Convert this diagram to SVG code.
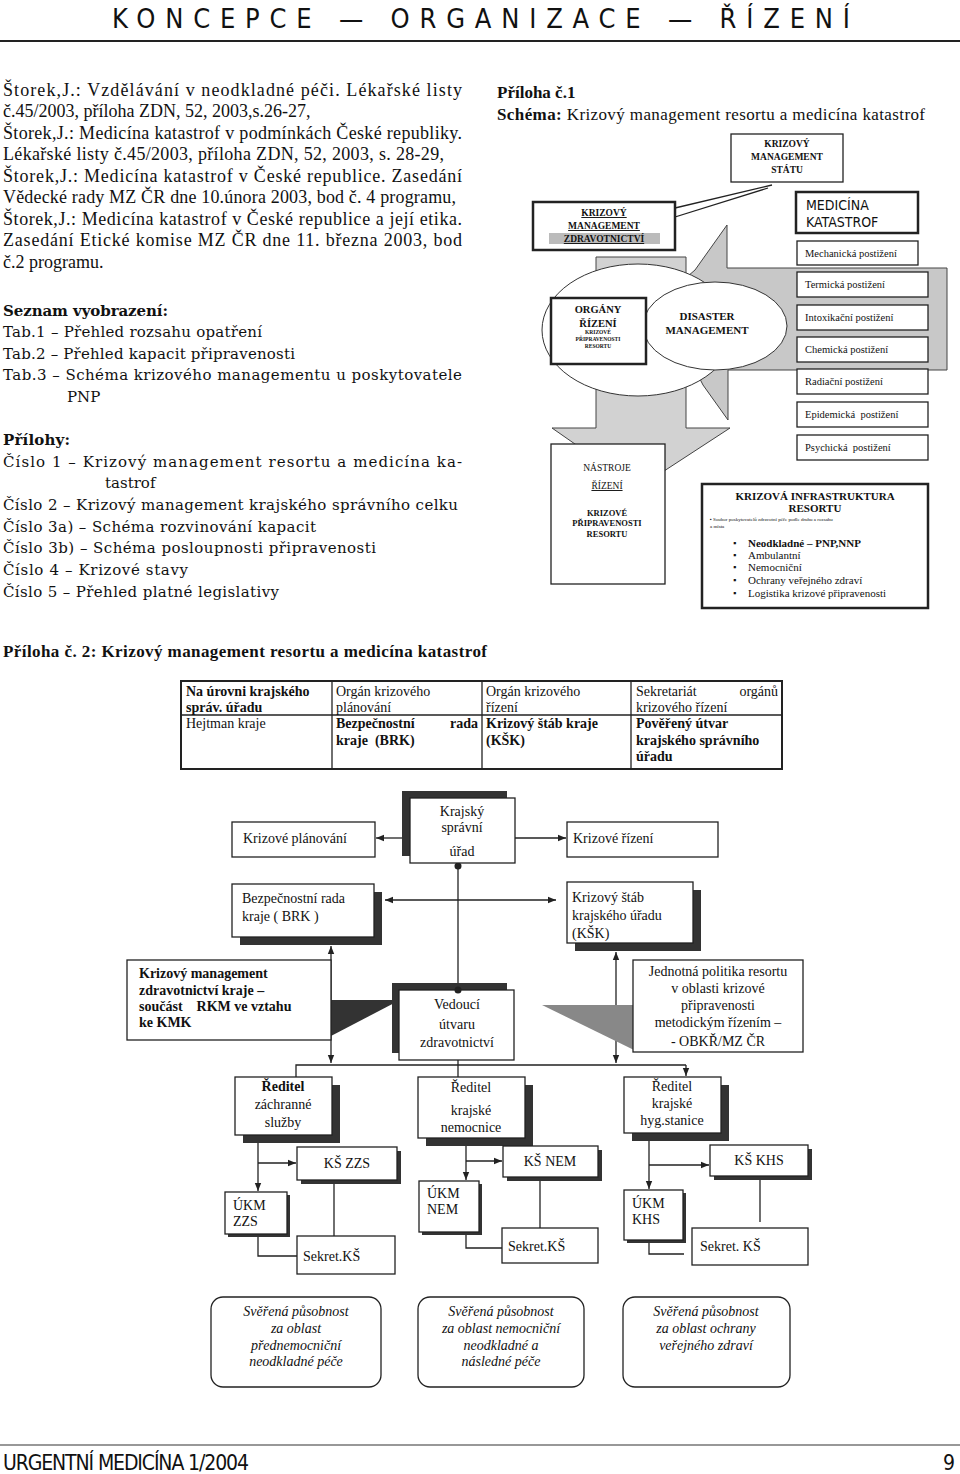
<svg xmlns="http://www.w3.org/2000/svg" width="960" height="1474" viewBox="0 0 960 1474">
<style>
.s{font-family:"Liberation Serif","Times New Roman",serif;fill:#111}
.d{font-family:"DejaVu Serif","Liberation Serif",serif;fill:#111}
.ss{font-family:"Liberation Sans Narrow","DejaVu Sans Condensed","Liberation Sans",sans-serif;fill:#111}
.b{font-weight:bold}
.i{font-style:italic}
.box{fill:#fff;stroke:#222;stroke-width:1.3}
.tk{fill:#fff;stroke:#222;stroke-width:2.5}
.sh{fill:#333}
.ln{stroke:#222;stroke-width:1.3;fill:none}
.m{text-anchor:middle}
.e{text-anchor:end}
.pre{white-space:pre}
</style>
<defs>
<marker id="ah" viewBox="0 0 10 10" refX="10" refY="5" markerWidth="8" markerHeight="8" markerUnits="userSpaceOnUse" orient="auto-start-reverse"><path d="M0,1 L10,5 L0,9 z" fill="#222"/></marker>
</defs>
<rect width="960" height="1474" fill="#fff"/>

<g id="header">
<text class="ss" x="112" y="28" font-size="27" textLength="738" lengthAdjust="spacing">KONCEPCE — ORGANIZACE — ŘÍZENÍ</text>
<line x1="0" y1="41" x2="960" y2="41" stroke="#222" stroke-width="2"/>
</g>

<g id="references" class="s" font-size="18">
<text x="3" y="96" textLength="459" lengthAdjust="spacing">Štorek,J.: Vzdělávání v neodkladné péči. Lékařské listy</text>
<text x="3" y="117">č.45/2003, příloha ZDN, 52, 2003,s.26-27,</text>
<text x="3" y="139" textLength="459" lengthAdjust="spacing">Štorek,J.: Medicína katastrof v podmínkách České republiky.</text>
<text x="3" y="160" textLength="441" lengthAdjust="spacing">Lékařské listy č.45/2003, příloha ZDN, 52, 2003, s. 28-29,</text>
<text x="3" y="182" textLength="459" lengthAdjust="spacing">Štorek,J.: Medicína katastrof v České republice. Zasedání</text>
<text x="3" y="203" textLength="453" lengthAdjust="spacing">Vědecké rady MZ ČR dne 10.února 2003, bod č. 4 programu,</text>
<text x="3" y="225" textLength="459" lengthAdjust="spacing">Štorek,J.: Medicína katastrof v České republice a její etika.</text>
<text x="3" y="246" textLength="459" lengthAdjust="spacing">Zasedání Etické komise MZ ČR dne 11. března 2003, bod</text>
<text x="3" y="268">č.2 programu.</text>
</g>

<g id="lists" class="d" font-size="15">
<text x="3" y="316" class="b" textLength="165" lengthAdjust="spacing">Seznam vyobrazení:</text>
<text x="3" y="337" textLength="259" lengthAdjust="spacing">Tab.1 – Přehled rozsahu opatření</text>
<text x="3" y="359" textLength="292" lengthAdjust="spacing">Tab.2 – Přehled kapacit připravenosti</text>
<text x="3" y="380" textLength="459" lengthAdjust="spacing">Tab.3 – Schéma krizového managementu u poskytovatele</text>
<text x="67" y="402">PNP</text>
<text x="3" y="445" class="b" textLength="67" lengthAdjust="spacing">Přílohy:</text>
<text x="3" y="467" textLength="459" lengthAdjust="spacing">Číslo 1 – Krizový management resortu a medicína ka-</text>
<text x="105" y="488">tastrof</text>
<text x="3" y="510" textLength="455" lengthAdjust="spacing">Číslo 2 – Krizový management krajského správního celku</text>
<text x="3" y="532" textLength="313" lengthAdjust="spacing">Číslo 3a) – Schéma rozvinování kapacit</text>
<text x="3" y="553" textLength="373" lengthAdjust="spacing">Číslo 3b) – Schéma posloupnosti připravenosti</text>
<text x="3" y="575" textLength="185" lengthAdjust="spacing">Číslo 4 – Krizové stavy</text>
<text x="3" y="597" textLength="276" lengthAdjust="spacing">Číslo 5 – Přehled platné legislativy</text>
</g>

<g id="priloha1-title" class="s" font-size="17">
<text x="497" y="98" class="b">Příloha č.1</text>
<text x="497" y="120" textLength="428" lengthAdjust="spacing"><tspan class="b">Schéma:</tspan> Krizový management resortu a medicína katastrof</text>
</g>

<g id="schema1">
<polygon points="727,225 727,268 947,268 947,370 728,370 728,420 703,385 660,300 695,270" fill="#c8c8c8" stroke="#444" stroke-width="1"/>
<path d="M596,257 H686 V428 H730 L638,488 L552,428 H596 Z" fill="#d2d2d2" stroke="#444" stroke-width="1"/>
<line x1="772" y1="185" x2="675" y2="208" class="ln" stroke-width="2"/>
<line x1="768" y1="188" x2="675" y2="217" class="ln" stroke-width="2"/>
<g id="n-stat"><rect x="731" y="134" width="112" height="48" class="box" stroke-width="1.6"/>
<text class="s b m" font-size="9.5" x="787" y="147">KRIZOVÝ</text><text class="s b m" font-size="9.5" x="787" y="160">MANAGEMENT</text><text class="s b m" font-size="9.5" x="787" y="173">STÁTU</text></g>
<g id="n-zdrav"><rect x="533" y="202" width="142" height="48" class="tk"/>
<rect x="549" y="233" width="111" height="11" fill="#bbb"/>
<text class="s b m" font-size="9.5" x="604" y="216" text-decoration="underline">KRIZOVÝ</text><text class="s b m" font-size="9.5" x="604" y="229" text-decoration="underline">MANAGEMENT</text><text class="s b m" font-size="9.5" x="604" y="242" text-decoration="underline">ZDRAVOTNICTVÍ</text></g>
<g id="n-medkat"><rect x="796" y="192" width="122" height="41" class="tk"/>
<text class="ss" font-size="14" x="806" y="210">MEDICÍNA</text><text class="ss" font-size="14" x="806" y="227">KATASTROF</text></g>
<g id="n-mech"><rect x="797" y="241" width="121" height="24" class="box" stroke-width="1"/><text class="s" font-size="10.5" x="805" y="257">Mechanická postižení</text></g>
<g id="n-term"><rect x="797" y="272" width="131" height="25" class="box" stroke-width="1"/><text class="s" font-size="10.5" x="805" y="288">Termická postižení</text></g>
<g id="n-intox"><rect x="797" y="305" width="131" height="25" class="box" stroke-width="1"/><text class="s" font-size="10.5" x="805" y="321">Intoxikační postižení</text></g>
<g id="n-chem"><rect x="797" y="337" width="131" height="25" class="box" stroke-width="1"/><text class="s" font-size="10.5" x="805" y="353">Chemická postižení</text></g>
<g id="n-rad"><rect x="797" y="369" width="131" height="25" class="box" stroke-width="1"/><text class="s" font-size="10.5" x="805" y="385">Radiační postižení</text></g>
<g id="n-epid"><rect x="797" y="402" width="131" height="25" class="box" stroke-width="1"/><text class="s pre" font-size="10.5" x="805" y="418">Epidemická  postižení</text></g>
<g id="n-psych"><rect x="797" y="435" width="131" height="25" class="box" stroke-width="1"/><text class="s pre" font-size="10.5" x="805" y="451">Psychická  postižení</text></g>
<ellipse cx="638" cy="330" rx="96" ry="66" fill="#fff" stroke="#333" stroke-width="1"/>
<g id="n-disaster"><ellipse cx="715" cy="326" rx="72" ry="44" fill="#fff" stroke="#333" stroke-width="1"/>
<text class="s b m" font-size="11" x="707" y="320">DISASTER</text><text class="s b m" font-size="11" x="707" y="334">MANAGEMENT</text></g>
<g id="n-organy"><rect x="551" y="298" width="95" height="66" class="tk"/>
<text class="s b m" font-size="10.5" x="598" y="313">ORGÁNY</text><text class="s b m" font-size="10.5" x="598" y="327">ŘÍZENÍ</text>
<text class="s b m" font-size="5.5" x="598" y="334">KRIZOVÉ</text><text class="s b m" font-size="5.5" x="598" y="341">PŘIPRAVENOSTI</text><text class="s b m" font-size="5.5" x="598" y="348">RESORTU</text></g>
<g id="n-nastroje"><rect x="551" y="444" width="114" height="140" class="box" stroke-width="1.5"/>
<text class="s m" font-size="9.5" x="607" y="471">NÁSTROJE</text><text class="s m" font-size="9.5" x="607" y="489" text-decoration="underline">ŘÍZENÍ</text>
<text class="s b m" font-size="8.5" x="607" y="516">KRIZOVÉ</text><text class="s b m" font-size="8.5" x="607" y="526">PŘIPRAVENOSTI</text><text class="s b m" font-size="8.5" x="607" y="537">RESORTU</text></g>
<g id="n-infra"><rect x="702" y="484" width="226" height="124" class="tk"/>
<text class="s b m" font-size="11" x="815" y="500">KRIZOVÁ INFRASTRUKTURA</text><text class="s b m" font-size="11" x="815" y="512">RESORTU</text>
<text class="s" font-size="5" x="710" y="521">▪ Soubor poskytovatelů zdravotní péče podle druhu a rozsahu</text><text class="s" font-size="5" x="710" y="528">a místa</text>
<text class="s" font-size="9" x="733" y="546">▪</text><text class="s b" font-size="11" x="748" y="547">Neodkladné – PNP,NNP</text>
<text class="s" font-size="9" x="733" y="558">▪</text><text class="s" font-size="11" x="748" y="559">Ambulantní</text>
<text class="s" font-size="9" x="733" y="570">▪</text><text class="s" font-size="11" x="748" y="571">Nemocniční</text>
<text class="s" font-size="9" x="733" y="583">▪</text><text class="s" font-size="11" x="748" y="584">Ochrany veřejného zdraví</text>
<text class="s" font-size="9" x="733" y="596">▪</text><text class="s" font-size="11" x="748" y="597">Logistika krizové připravenosti</text></g>
</g>

<g id="priloha2-title" class="s" font-size="17">
<text x="3" y="657" class="b" textLength="484" lengthAdjust="spacing">Příloha č. 2: Krizový management resortu a medicína katastrof</text>
</g>

<g id="table" class="s" font-size="14">
<rect x="181" y="681" width="601" height="88" fill="#fff" stroke="#222" stroke-width="2"/>
<line x1="332" y1="681" x2="332" y2="769" class="ln"/><line x1="482" y1="681" x2="482" y2="769" class="ln"/><line x1="631" y1="681" x2="631" y2="769" class="ln"/>
<line x1="181" y1="715" x2="782" y2="715" class="ln"/>
<text x="186" y="696" class="b">Na úrovni krajského</text><text x="186" y="712" class="b">správ. úřadu</text>
<text x="336" y="696">Orgán krizového</text><text x="336" y="712">plánování</text>
<text x="486" y="696">Orgán krizového</text><text x="486" y="712">řízení</text>
<text x="636" y="696">Sekretariát</text><text x="778" y="696" class="e">orgánů</text><text x="636" y="712">krizového řízení</text>
<text x="186" y="728">Hejtman kraje</text>
<text x="336" y="728" class="b">Bezpečnostní</text><text x="478" y="728" class="b e">rada</text><text x="336" y="745" class="b pre">kraje  (BRK)</text>
<text x="486" y="728" class="b">Krizový štáb kraje</text><text x="486" y="745" class="b">(KŠK)</text>
<text x="636" y="728" class="b">Pověřený útvar</text><text x="636" y="745" class="b">krajského správního</text><text x="636" y="761" class="b">úřadu</text>
</g>

<g id="connectors">
<line x1="402" y1="838" x2="376" y2="838" class="ln" marker-end="url(#ah)"/>
<line x1="515" y1="838" x2="566" y2="838" class="ln" marker-end="url(#ah)"/>
<line x1="458" y1="866" x2="458" y2="990" class="ln"/>
<circle cx="458" cy="866" r="3.5" fill="#222"/>
<line x1="385" y1="900" x2="556" y2="900" class="ln" marker-start="url(#ah)" marker-end="url(#ah)"/>
<line x1="331" y1="946" x2="331" y2="1063" class="ln" marker-start="url(#ah)" marker-end="url(#ah)"/>
<line x1="616" y1="952" x2="616" y2="1063" class="ln" marker-start="url(#ah)" marker-end="url(#ah)"/>
<line x1="458" y1="1060" x2="458" y2="1077" class="ln"/>
<polyline points="296,1077 296,1065 686,1065" class="ln"/>
<line x1="686" y1="1065" x2="686" y2="1076" class="ln" marker-end="url(#ah)"/>
<line x1="258" y1="1135" x2="258" y2="1191" class="ln" marker-end="url(#ah)"/>
<line x1="258" y1="1163" x2="296" y2="1163" class="ln" marker-end="url(#ah)"/>
<polyline points="258,1234 258,1256 297,1256" class="ln"/>
<line x1="334" y1="1180" x2="334" y2="1236" class="ln"/>
<line x1="466" y1="1138" x2="466" y2="1180" class="ln" marker-end="url(#ah)"/>
<line x1="466" y1="1161" x2="502" y2="1161" class="ln" marker-end="url(#ah)"/>
<polyline points="466,1232 466,1248 502,1248" class="ln"/>
<line x1="540" y1="1177" x2="540" y2="1228" class="ln"/>
<line x1="649" y1="1133" x2="649" y2="1189" class="ln" marker-end="url(#ah)"/>
<line x1="649" y1="1165" x2="709" y2="1165" class="ln" marker-end="url(#ah)"/>
<polyline points="649,1240 649,1254 684,1254" class="ln"/>
<line x1="760" y1="1176" x2="760" y2="1222" class="ln"/>
</g>

<g id="wedges">
<polygon points="331,1000 400,1000 331,1036" fill="#333"/>
<polygon points="542,1005 634,1005 634,1050" fill="#888"/>
</g>

<g id="n-planovani"><rect x="232" y="822" width="143" height="35" class="box"/><text class="s" font-size="14" x="243" y="843">Krizové plánování</text></g>
<g id="n-krajsky"><rect x="402" y="791" width="105" height="65" class="sh"/><rect x="410" y="798" width="105" height="65" class="box"/>
<text class="s m" font-size="14" x="462" y="816">Krajský</text><text class="s m" font-size="14" x="462" y="832">správní</text><text class="s m" font-size="14" x="462" y="856">úřad</text></g>
<g id="n-rizeni"><rect x="567" y="822" width="151" height="35" class="box"/><text class="s" font-size="14" x="573" y="843">Krizové řízení</text></g>
<g id="n-brk"><rect x="240" y="892" width="142" height="53" class="sh"/><rect x="232" y="884" width="142" height="53" class="box"/>
<text class="s" font-size="14" x="242" y="903">Bezpečnostní rada</text><text class="s" font-size="14" x="242" y="921">kraje ( BRK )</text></g>
<g id="n-ksk"><rect x="575" y="890" width="126" height="61" class="sh"/><rect x="567" y="882" width="126" height="61" class="box"/>
<text class="s" font-size="14" x="572" y="902">Krizový štáb</text><text class="s" font-size="14" x="572" y="920">krajského úřadu</text><text class="s" font-size="14" x="572" y="938">(KŠK)</text></g>
<g id="n-kmzk"><rect x="127" y="960" width="204" height="80" class="box"/>
<text class="s b" font-size="14" x="139" y="978">Krizový management</text><text class="s b" font-size="14" x="139" y="995">zdravotnictví kraje –</text><text class="s b pre" font-size="14" x="139" y="1011">součást    RKM ve vztahu</text><text class="s b" font-size="14" x="139" y="1027">ke KMK</text></g>
<g id="n-vedouci"><rect x="392" y="983" width="115" height="70" class="sh"/><rect x="399" y="990" width="115" height="70" class="box"/>
<text class="s m" font-size="14" x="457" y="1009">Vedoucí</text><text class="s m" font-size="14" x="457" y="1029">útvaru</text><text class="s m" font-size="14" x="457" y="1047">zdravotnictví</text></g>
<g id="n-jednotna"><rect x="633" y="960" width="170" height="92" class="box"/>
<text class="s m" font-size="14" x="718" y="976">Jednotná politika resortu</text><text class="s m" font-size="14" x="718" y="993">v oblasti krizové</text><text class="s m" font-size="14" x="718" y="1010">připravenosti</text><text class="s m" font-size="14" x="718" y="1027">metodickým řízením –</text><text class="s m" font-size="14" x="718" y="1046">- OBKŘ/MZ ČR</text></g>
<circle cx="458" cy="990" r="3.5" fill="#222"/>

<g id="n-red-zzs"><rect x="243" y="1085" width="97" height="58" class="sh"/><rect x="235" y="1077" width="97" height="58" class="box"/>
<text class="s b m" font-size="14" x="283" y="1091">Ředitel</text><text class="s m" font-size="14" x="283" y="1109">záchranné</text><text class="s m" font-size="14" x="283" y="1127">služby</text></g>
<g id="n-red-nem"><rect x="426" y="1085" width="107" height="61" class="sh"/><rect x="418" y="1077" width="107" height="61" class="box"/>
<text class="s m" font-size="14" x="471" y="1092">Ředitel</text><text class="s m" font-size="14" x="471" y="1115">krajské</text><text class="s m" font-size="14" x="471" y="1132">nemocnice</text></g>
<g id="n-red-khs"><rect x="632" y="1085" width="97" height="56" class="sh"/><rect x="624" y="1077" width="97" height="56" class="box"/>
<text class="s m" font-size="14" x="672" y="1091">Ředitel</text><text class="s m" font-size="14" x="672" y="1108">krajské</text><text class="s m" font-size="14" x="672" y="1125">hyg.stanice</text></g>

<g id="n-ks-zzs"><rect x="301" y="1151" width="100" height="33" class="sh"/><rect x="297" y="1147" width="100" height="33" class="box"/><text class="s m" font-size="14" x="347" y="1168">KŠ ZZS</text></g>
<g id="n-ks-nem"><rect x="507" y="1150" width="95" height="31" class="sh"/><rect x="503" y="1146" width="95" height="31" class="box"/><text class="s m" font-size="14" x="550" y="1166">KŠ NEM</text></g>
<g id="n-ks-khs"><rect x="714" y="1149" width="98" height="31" class="sh"/><rect x="710" y="1145" width="98" height="31" class="box"/><text class="s m" font-size="14" x="759" y="1165">KŠ KHS</text></g>
<g id="n-ukm-zzs"><rect x="228" y="1195" width="62" height="42" class="sh"/><rect x="225" y="1192" width="62" height="42" class="box"/><text class="s" font-size="14" x="233" y="1210">ÚKM</text><text class="s" font-size="14" x="233" y="1226">ZZS</text></g>
<g id="n-ukm-nem"><rect x="422" y="1184" width="60" height="51" class="sh"/><rect x="419" y="1181" width="60" height="51" class="box"/><text class="s" font-size="14" x="427" y="1198">ÚKM</text><text class="s" font-size="14" x="427" y="1214">NEM</text></g>
<g id="n-ukm-khs"><rect x="627" y="1193" width="59" height="50" class="sh"/><rect x="624" y="1190" width="59" height="50" class="box"/><text class="s" font-size="14" x="632" y="1208">ÚKM</text><text class="s" font-size="14" x="632" y="1224">KHS</text></g>
<g id="n-sekret-zzs"><rect x="297" y="1236" width="98" height="38" class="box"/><text class="s" font-size="14" x="303" y="1261">Sekret.KŠ</text></g>
<g id="n-sekret-nem"><rect x="502" y="1228" width="96" height="35" class="box"/><text class="s" font-size="14" x="508" y="1251">Sekret.KŠ</text></g>
<g id="n-sekret-khs"><rect x="692" y="1228" width="116" height="37" class="box"/><text class="s" font-size="14" x="700" y="1251">Sekret. KŠ</text></g>

<g id="n-pusob-zzs"><rect x="211" y="1297" width="170" height="90" rx="12" class="box"/>
<text class="s i m" font-size="14" x="296" y="1316">Svěřená působnost</text><text class="s i m" font-size="14" x="296" y="1333">za oblast</text><text class="s i m" font-size="14" x="296" y="1350">přednemocniční</text><text class="s i m" font-size="14" x="296" y="1366">neodkladné péče</text></g>
<g id="n-pusob-nem"><rect x="418" y="1297" width="166" height="90" rx="12" class="box"/>
<text class="s i m" font-size="14" x="501" y="1316">Svěřená působnost</text><text class="s i m" font-size="14" x="501" y="1333">za oblast nemocniční</text><text class="s i m" font-size="14" x="501" y="1350">neodkladné a</text><text class="s i m" font-size="14" x="501" y="1366">následné péče</text></g>
<g id="n-pusob-khs"><rect x="623" y="1297" width="167" height="90" rx="12" class="box"/>
<text class="s i m" font-size="14" x="706" y="1316">Svěřená působnost</text><text class="s i m" font-size="14" x="706" y="1333">za oblast ochrany</text><text class="s i m" font-size="14" x="706" y="1350">veřejného zdraví</text></g>

<g id="footer">
<line x1="0" y1="1445" x2="960" y2="1445" stroke="#333" stroke-width="1.2"/>
<text class="ss" x="3" y="1470" font-size="21" textLength="246" lengthAdjust="spacing">URGENTNÍ MEDICÍNA 1/2004</text>
<text class="ss" x="943" y="1470" font-size="21">9</text>
</g>
</svg>
